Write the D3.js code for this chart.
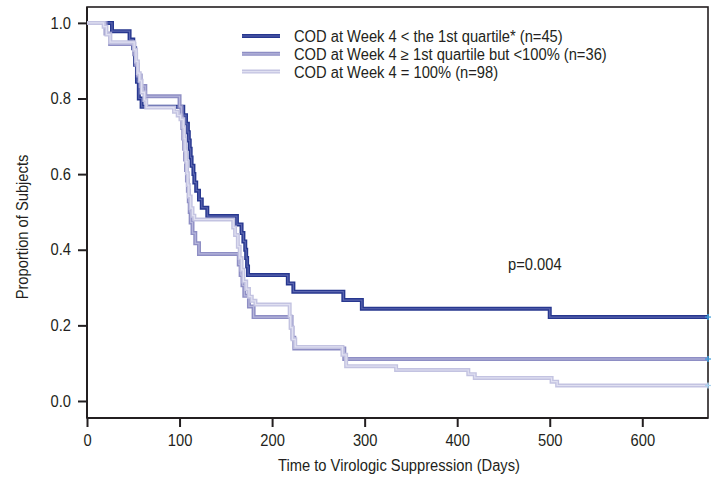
<!DOCTYPE html>
<html>
<head>
<meta charset="utf-8">
<script src="https://cdn.jsdelivr.net/npm/d3@7"></script>
<style>
  body { margin: 0; background: #fff; }
  svg text { font-family: "Liberation Sans", Arial, sans-serif; font-size: 16px; fill: #231f20; }
  .frame { fill: none; stroke: #231f20; stroke-width: 1.6; }
  .axis path, .axis line { stroke: #231f20; stroke-width: 2; }
</style>
</head>
<body>
<svg id="chart" width="715" height="477"></svg>
<script>
// ---- data (days, proportion) ----
const groupNames = [
    "COD at Week 4 < the 1st quartile* (n=45)",
    "COD at Week 4 \u2265 1st quartile but <100% (n=36)",
    "COD at Week 4 = 100% (n=98)"
];

const days1 = [0, 27, 46, 50, 52, 54, 56, 59, 104, 107, 109, 110, 111, 112, 113, 115, 116, 118, 121, 124, 130, 162, 167, 169, 171, 172, 173, 174, 217, 223, 277, 297, 500];
const surv1 = [1, .978, .956, .933, .889, .844, .80, .778, .756, .733, .711, .689, .667, .644, .622, .60, .578, .556, .533, .511, .489, .467, .444, .422, .40, .378, .356, .333, .311, .289, .267, .244, .222];

const days2 = [0, 20, 25, 51, 53, 55, 58, 63, 100, 102, 103, 104, 105, 106, 107, 108, 109, 110, 111, 112, 114, 117, 121, 164, 166, 168, 170, 175, 180, 221, 222, 224, 278];
const surv2 = [1, .972, .944, .917, .889, .861, .833, .806, .778, .75, .722, .694, .667, .639, .611, .583, .556, .528, .50, .472, .444, .417, .389, .361, .333, .306, .278, .25, .222, .194, .167, .139, .111];

const days3 = [0, 18, 21, 25, 51, 53, 55, 57, 59, 62, 64, 94, 98, 101, 104, 105, 106, 107, 108, 109, 110, 112, 114, 116, 158, 160, 163, 165, 167, 169, 172, 175, 178, 182, 219, 220, 222, 225, 276, 280, 334, 412, 419, 502, 508];
const surv3 = [1, .99, .969, .949, .929, .898, .867, .847, .816, .796, .776, .765, .755, .745, .724, .694, .663, .633, .602, .571, .541, .51, .49, .48, .459, .439, .408, .378, .347, .316, .296, .276, .265, .255, .224, .194, .163, .143, .122, .092, .082, .071, .061, .051, .041];

const lastDay = 671;
const xTicks = [0, 100, 200, 300, 400, 500, 600];
const yTicks = [0, 0.2, 0.4, 0.6, 0.8, 1.0];
const pText = "p=0.004";

const outerColors = ["#27378f", "#8e8ec4", "#c3c3e1"];
const innerColors = ["#5b66b0", "#b6b6db", "#e0e0f1"];

// ---- layout ----
const svg = d3.select("#chart");
const plotLeft = 87, plotRight = 708, plotTop = 7, plotBottom = 418;
const squeeze = 0.92; // the original uses a slightly condensed face

const x = d3.scaleLinear().domain([0, lastDay]).range([plotLeft, plotRight]);
const y = d3.scaleLinear().domain([-0.045, 1.042]).range([plotBottom, plotTop]);

function addText(parent, tx, ty, str, anchor, rot) {
    return parent.append("text")
        .attr("transform", `translate(${tx},${ty})` + (rot ? ` rotate(${rot})` : "") + ` scale(${squeeze},1)`)
        .attr("text-anchor", anchor || "start")
        .text(str);
}

// frame
svg.append("rect")
    .attr("x", plotLeft).attr("y", plotTop)
    .attr("width", plotRight - plotLeft).attr("height", plotBottom - plotTop)
    .attr("class", "frame");

// axes
const xAxis = svg.append("g")
    .attr("class", "axis")
    .attr("transform", `translate(0,${plotBottom})`)
    .call(d3.axisBottom(x).tickValues(xTicks).tickSize(9).tickPadding(8).tickFormat(d3.format("d")));
xAxis.select(".domain").remove();
xAxis.selectAll("text")
    .attr("font-size", null)
    .attr("transform", `scale(${squeeze},1)`);

const yAxis = svg.append("g")
    .attr("class", "axis")
    .attr("transform", `translate(${plotLeft},0)`)
    .call(d3.axisLeft(y).tickValues(yTicks).tickSize(9).tickPadding(7).tickFormat(d3.format(".1f")));
yAxis.select(".domain").remove();
yAxis.selectAll("text")
    .attr("x", -16 / squeeze)
    .attr("transform", `scale(${squeeze},1)`);
svg.selectAll(".axis").attr("font-size", null).attr("font-family", null);

// axis lines drawn heavier
svg.append("line").attr("x1", plotLeft).attr("x2", plotLeft).attr("y1", plotTop).attr("y2", plotBottom)
    .attr("stroke", "#231f20").attr("stroke-width", 2);
svg.append("line").attr("x1", plotLeft).attr("x2", plotRight).attr("y1", plotBottom).attr("y2", plotBottom)
    .attr("stroke", "#231f20").attr("stroke-width", 2);

// axis titles
addText(svg, 399, 471, "Time to Virologic Suppression (Days)", "middle");
addText(svg, 28, 227, "Proportion of Subjects", "middle", -90);

// ---- KM curves ----
function toPoints(days, surv) {
    const pts = days.map((d, i) => ({t: d, s: surv[i]}));
    pts.push({t: lastDay, s: surv[surv.length - 1]});
    return pts;
}

const series = [toPoints(days1, surv1), toPoints(days2, surv2), toPoints(days3, surv3)];

const stepLine = d3.line()
    .x(d => x(d.t))
    .y(d => y(d.s))
    .curve(d3.curveStepAfter);

series.forEach((pts, i) => {
    svg.append("path")
        .attr("d", stepLine(pts))
        .attr("fill", "none")
        .attr("stroke", outerColors[i])
        .attr("stroke-width", 4);
    svg.append("path")
        .attr("d", stepLine(pts))
        .attr("fill", "none")
        .attr("stroke", innerColors[i])
        .attr("stroke-width", 1.2);
    // censor mark at the end
    const last = pts[pts.length - 1];
    const markColor = i < 2 ? "#3a9ad9" : "#a9d2ef";
    svg.append("line")
        .attr("x1", x(last.t)).attr("x2", x(last.t))
        .attr("y1", y(last.s) - 3).attr("y2", y(last.s) + 3)
        .attr("stroke", markColor)
        .attr("stroke-width", 1.5);
    svg.append("line")
        .attr("x1", x(last.t) - 3).attr("x2", x(last.t) + 3)
        .attr("y1", y(last.s)).attr("y2", y(last.s))
        .attr("stroke", markColor)
        .attr("stroke-width", 1.2);
});

// ---- legend ----
const legend = svg.append("g").attr("transform", "translate(242,36)");
groupNames.forEach((name, i) => {
    const g = legend.append("g").attr("transform", `translate(0,${i * 17.8})`);
    g.append("line").attr("x1", 0).attr("x2", 38).attr("y1", 0).attr("y2", 0)
        .attr("stroke", outerColors[i]).attr("stroke-width", 4);
    g.append("line").attr("x1", 0).attr("x2", 38).attr("y1", 0).attr("y2", 0)
        .attr("stroke", innerColors[i]).attr("stroke-width", 1.2);
    addText(g, 52, 6, name);
});

addText(svg, 508, 270, pText);
</script>
</body>
</html>
